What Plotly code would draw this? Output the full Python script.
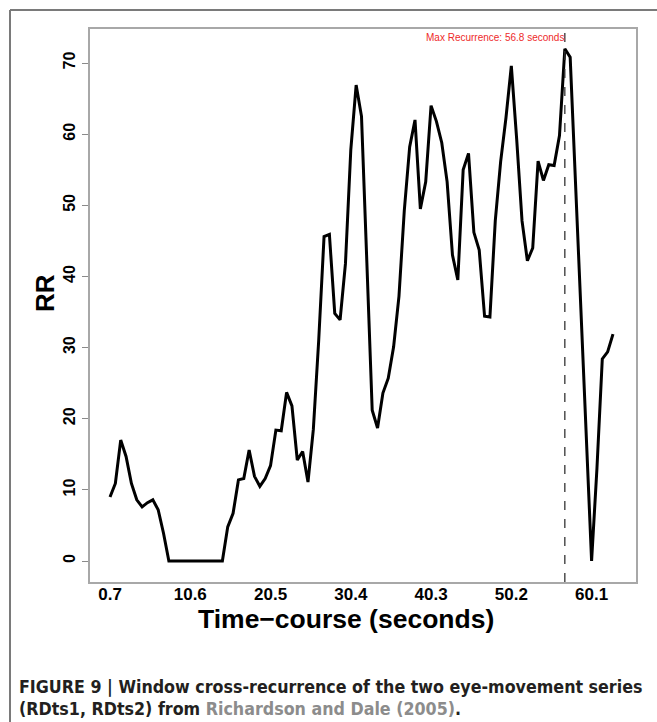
import plotly.graph_objects as go

# Windowed cross-recurrence rate (RR) per window
rr = [9.0, 10.9, 17.0, 14.7, 10.9, 8.6, 7.6, 8.2, 8.6, 7.2,
      3.9, 0, 0, 0, 0, 0, 0, 0, 0, 0,
      0, 0, 4.8, 6.7, 11.4, 11.6, 15.6, 11.9, 10.5, 11.6,
      13.4, 18.4, 18.3, 23.7, 21.8, 14.2, 15.4, 11.1, 18.5, 31.0,
      45.6, 45.9, 34.8, 33.9, 41.8, 57.8, 66.9, 62.5, 42.0, 21.2,
      18.7, 23.6, 25.7, 30.1, 37.2, 49.3, 58.2, 62.0, 49.5, 53.3,
      64.0, 61.8, 58.8, 53.3, 43.0, 39.5, 55.0, 57.3, 46.2, 43.7,
      34.4, 34.3, 47.8, 56.1, 62.3, 69.6, 59.3, 47.8, 42.2, 44.0,
      56.2, 53.5, 55.7, 55.6, 59.8, 72.0, 70.8, 53.0, 36.0, 18.0,
      0, 13.0, 28.4, 29.4, 31.9]
window = list(range(len(rr)))

x_tick_pos = [0, 15, 30, 45, 60, 75, 90]
x_tick_labels = ["0.7", "10.6", "20.5", "30.4", "40.3", "50.2", "60.1"]
y_tick_vals = [0, 10, 20, 30, 40, 50, 60, 70]
max_label = "Max Recurrence: 56.8 seconds"

max_idx = rr.index(max(rr))

W, H = 657, 722
L, R, T, B = 90, 21, 29, 140
pw, ph = W - L - R, H - T - B


def px(xp):
    return (xp - L) / pw


def py(yp):
    return (H - B - yp) / ph


fig = go.Figure()
fig.add_trace(go.Scatter(x=window, y=rr, mode="lines",
                         line=dict(color="black", width=3),
                         hoverinfo="skip", showlegend=False))

font_main = "Liberation Sans, Arial, sans-serif"

fig.update_layout(
    width=W, height=H,
    margin=dict(l=L, r=R, t=T, b=B, pad=0),
    paper_bgcolor="white", plot_bgcolor="white",
    font=dict(family=font_main, color="black"),
    xaxis=dict(range=[-3.74, 98.3], tickvals=x_tick_pos, ticktext=x_tick_labels,
               showgrid=False, zeroline=False, ticks="",
               showline=True, mirror=True, linecolor="#a8a8a8", linewidth=1.5,
               tickfont=dict(size=17, family=font_main, weight="bold"),
               ticklabelstandoff=-4),
    yaxis=dict(range=[-2.95, 74.78], tickvals=y_tick_vals,
               showgrid=False, zeroline=False, ticks="outside", ticklen=6,
               tickcolor="#8a8a8a", tickwidth=1,
               showline=True, mirror=True, linecolor="#a8a8a8", linewidth=1.5,
               tickangle=-90,
               tickfont=dict(size=16, family=font_main, weight="bold"),
               ticklabelstandoff=1),
)

# dashed line at the maximum
fig.add_shape(type="line", xref="x", yref="paper", x0=max_idx, x1=max_idx,
              y0=0, y1=1, line=dict(color="#333333", width=1.3, dash="dash"))

fig.add_annotation(x=max_idx, xref="x", xanchor="right", xshift=1,
                   y=py(37), yref="paper", yanchor="middle",
                   text=max_label, showarrow=False,
                   font=dict(size=10, color="#ee2a2a", family=font_main))

# axis titles
fig.add_annotation(x=px(346), y=py(619), xref="paper", yref="paper",
                   text="Time\u2212course (seconds)", showarrow=False,
                   xanchor="center", yanchor="middle",
                   font=dict(size=26.5, family=font_main, weight="bold"))
fig.add_annotation(x=px(45), y=py(293), xref="paper", yref="paper",
                   text="RR", showarrow=False, textangle=-90,
                   xanchor="center", yanchor="middle",
                   font=dict(size=26, family=font_main, weight="bold"))

# outer frame of the figure panel
fig.add_shape(type="line", xref="paper", yref="paper",
              x0=px(10), x1=px(670), y0=py(10), y1=py(10),
              line=dict(color="#7a7a7a", width=2))
fig.add_shape(type="line", xref="paper", yref="paper",
              x0=px(10), x1=px(10), y0=py(10), y1=py(740),
              line=dict(color="#7a7a7a", width=2))

# caption
cap_font = "Liberation Sans Narrow, DejaVu Sans Condensed, Roboto, sans-serif"
fig.add_annotation(x=px(17), y=py(687), xref="paper", yref="paper",
                   xanchor="left", yanchor="middle", showarrow=False,
                   text="<b>FIGURE 9 | Window cross-recurrence of the two eye-movement series</b>",
                   font=dict(size=17.7, family=cap_font, color="#231f20"))
fig.add_annotation(x=px(17), y=py(709), xref="paper", yref="paper",
                   xanchor="left", yanchor="middle", showarrow=False,
                   text="<b>(RDts1, RDts2) from <span style='color:#8c8c8c'>Richardson and Dale (2005)</span>.</b>",
                   font=dict(size=17.7, family=cap_font, color="#231f20"))

fig.write_html("out.html")
